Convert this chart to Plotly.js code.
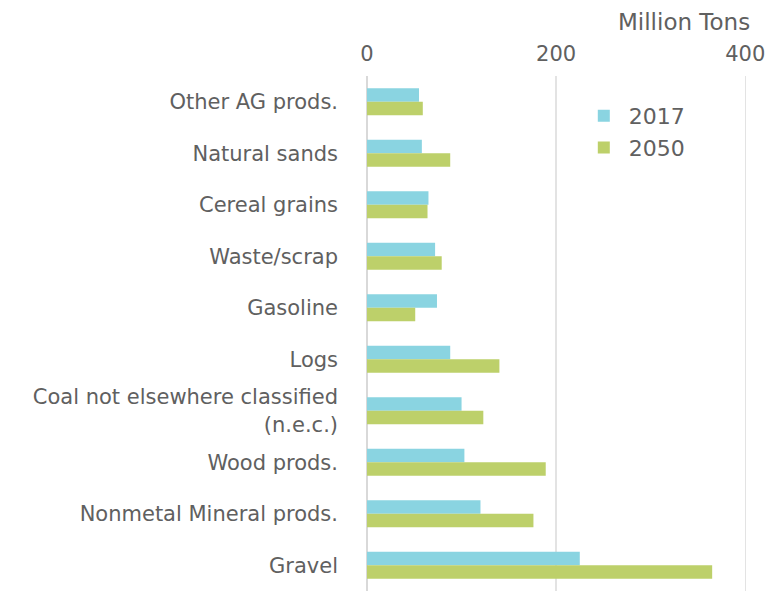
<!DOCTYPE html>
<html>
<head>
<meta charset="utf-8">
<script src="https://cdn.plot.ly/plotly-3.0.1.min.js"></script>
<style>html,body{margin:0;padding:0;background:#fff;}#chart{width:776px;height:593px;}</style>
</head>
<body>
<div id="chart"></div>
<script>
const categories = [
  "Other AG prods.",
  "Natural sands",
  "Cereal grains",
  "Waste/scrap",
  "Gasoline",
  "Logs",
  "Coal not elsewhere classified<br>(n.e.c.)",
  "Wood prods.",
  "Nonmetal Mineral prods.",
  "Gravel"
];
const values2017 = [55, 58, 65, 72, 74, 88, 100, 103, 120, 225];
const values2050 = [59, 88, 64, 79, 51, 140, 123, 189, 176, 365];
const seriesNames = ["2017", "2050"];
const tickValues = [0, 200, 400];
const axisTitle = "Million Tons";

const fontFamily = "'DejaVu Sans', sans-serif";
const gray = "#606060";

const data = [
  {type: "bar", orientation: "h", name: seriesNames[0], y: categories, x: values2017,
   marker: {color: "#8AD4E1"}},
  {type: "bar", orientation: "h", name: seriesNames[1], y: categories, x: values2050,
   marker: {color: "#BDD06A"}}
];

const layout = {
  width: 776, height: 593,
  margin: {l: 367, r: 26, t: 76, b: 2},
  paper_bgcolor: "#fff", plot_bgcolor: "#fff",
  barmode: "group", bargap: 0.48, bargroupgap: 0,
  font: {family: fontFamily, color: gray},
  showlegend: true,
  legend: {x: 0.553, y: 0.963, xanchor: "left", yanchor: "top", itemwidth: 40,
           font: {size: 22, color: gray}, bgcolor: "rgba(0,0,0,0)", tracegroupgap: 0},
  xaxis: {side: "top", range: [0, 405], tickvals: tickValues, ticktext: tickValues.map(String),
          showgrid: true, gridcolor: "#e3e3e3", gridwidth: 1.5,
          zeroline: true, zerolinecolor: "#d9d9d9", zerolinewidth: 2,
          showline: false, ticks: "", ticklabelstandoff: 10,
          tickfont: {size: 21, color: gray}, fixedrange: true},
  yaxis: {type: "category", autorange: "reversed", showgrid: false, zeroline: false,
          showline: false, ticks: "", ticklabelstandoff: 28,
          tickfont: {size: 21, color: gray}, fixedrange: true},
  annotations: [
    {text: axisTitle, xref: "paper", yref: "paper", x: (752-367)/383, y: 1 + (76-22)/515,
     xanchor: "right", yanchor: "middle", showarrow: false, font: {size: 23, color: gray}}
  ]
};

Plotly.newPlot("chart", data, layout, {displayModeBar: false, staticPlot: true});
</script>
</body>
</html>
